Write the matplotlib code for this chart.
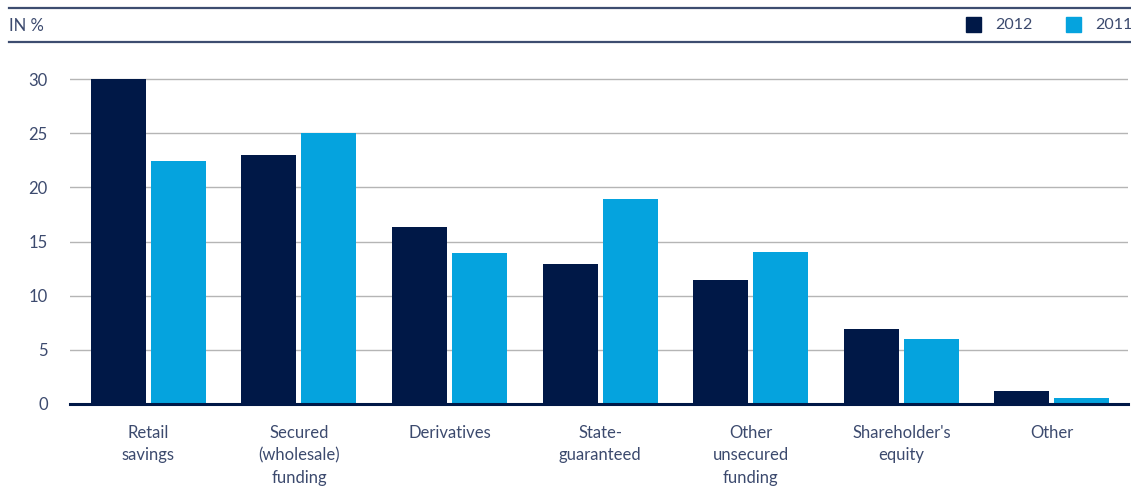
import numpy as np
import matplotlib.pyplot as plt
from matplotlib.patches import Rectangle
from matplotlib.lines import Line2D

plt.rcParams['font.family'] = ['Lato', 'DejaVu Sans']

categories = ["Retail\nsavings", "Secured\n(wholesale)\nfunding", "Derivatives",
              "State-\nguaranteed", "Other\nunsecured\nfunding", "Shareholder's\nequity", "Other"]
values_2012 = [30.0, 23.0, 16.3, 12.9, 11.45, 6.9, 1.2]
values_2011 = [22.4, 25.0, 13.9, 18.9, 14.0, 6.0, 0.6]
series_labels = ["2012", "2011"]
yticks = [0, 5, 10, 15, 20, 25, 30]

navy = "#001847"
cyan = "#05a3de"
text_col = "#3c4a6e"
rule_col = "#3d4d70"

W, H = 1131, 503
fig = plt.figure(figsize=(W / 100, H / 100), dpi=100)

# axes in pixel coordinates
left, right, bottom, top = 70, 1128, 404, 70
ax = fig.add_axes([left / W, 1 - bottom / H, (right - left) / W, (bottom - top) / H])

x = np.arange(len(categories))
bw = 0.365
off = 0.199
ax.bar(x - off, values_2012, bw, color=navy, zorder=3)
ax.bar(x + off, values_2011, bw, color=cyan, zorder=3)

ax.set_xlim(-0.52, 6.505)
ax.set_ylim(0, (bottom - top) / ((bottom - 79) / 30))
ax.set_yticks(yticks)
ax.set_yticklabels([str(v) for v in yticks])
ax.yaxis.grid(True, color="#b5b5b5", linewidth=1, zorder=0)
ax.set_axisbelow(True)
ax.set_xticks(x)
ax.set_xticklabels(categories, linespacing=1.5, va="top")
ax.tick_params(axis="x", length=0, pad=15, labelsize=12, labelcolor=text_col)
ax.tick_params(axis="y", length=0, pad=16, labelsize=12, labelcolor=text_col)
for s in ["top", "right", "left"]:
    ax.spines[s].set_visible(False)
ax.spines["bottom"].set_color(navy)
ax.spines["bottom"].set_linewidth(2.2)
ax.spines["bottom"].set_zorder(4)

# header rules and unit label
for yy in [8, 42]:
    fig.add_artist(Line2D([9 / W, 1], [1 - yy / H, 1 - yy / H], color=rule_col, linewidth=1.6))
fig.text(9 / W, 1 - 26 / H, "IN %", fontsize=12, color=text_col, va="center", ha="left")

# legend
for xs, lab, col in [(966, series_labels[0], navy), (1066, series_labels[1], cyan)]:
    fig.add_artist(Rectangle((xs / W, 1 - 32 / H), 15 / W, 15 / H, color=col, transform=fig.transFigure))
    fig.text((xs + 29) / W, 1 - 25 / H, lab, fontsize=11.5, color=text_col, va="center", ha="left")

fig.savefig("out.png", dpi=100)
